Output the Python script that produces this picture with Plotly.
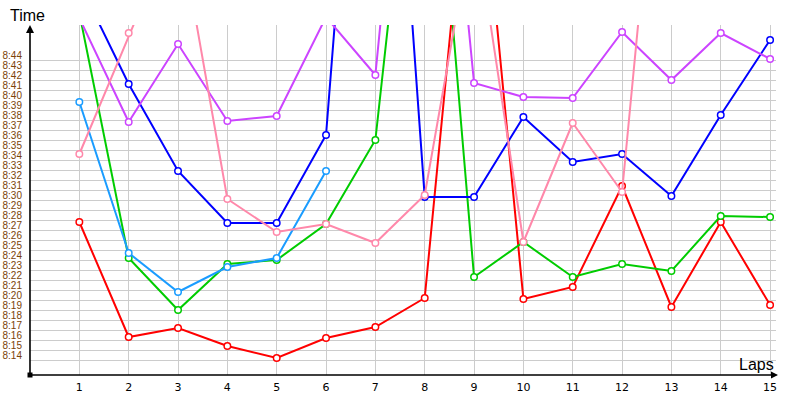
import plotly.graph_objects as go

# ---- data (lap times in seconds; 8:27 = 507 s) ----
laps = list(range(1, 16))
red = [507.3, 495.8, 496.7, 494.9, 493.7, 495.7, 496.8, 499.7, 550.8, 499.6, 500.8, 510.9, 498.8, 507.3, 499.0]
green = [528.2, 503.7, 498.5, 503.1, 503.5, 507.1, 515.5, 560.3, 501.8, 505.3, 501.8, 503.1, 502.4, 507.9, 507.8]
blue = [531.2, 521.1, 512.4, 507.2, 507.2, 516.0, 578.8, 509.8, 509.8, 517.8, 513.3, 514.1, 509.9, 518.0, 525.5]
light_blue = [519.3, 504.2, 500.3, 502.8, 503.7, 512.4]
purple = [527.7, 517.3, 525.1, 517.4, 517.9, 527.8, 522.0, 572.0, 521.2, 519.8, 519.7, 526.3, 521.5, 526.2, 523.6]
pink = [514.1, 526.2, 537.6, 509.6, 506.3, 507.1, 505.2, 510.0, 538.0, 505.3, 517.2, 510.3, 561.8]

y_tick_labels = ["8:14", "8:15", "8:16", "8:17", "8:18", "8:19", "8:20", "8:21", "8:22", "8:23",
                 "8:24", "8:25", "8:26", "8:27", "8:28", "8:29", "8:30", "8:31", "8:32", "8:33",
                 "8:34", "8:35", "8:36", "8:37", "8:38", "8:39", "8:40", "8:41", "8:42", "8:43", "8:44"]
x_tick_labels = [str(l) for l in laps]


def to_sec(s):
    m, sec = s.split(":")
    return int(m) * 60 + int(sec)


y_tick_vals = [to_sec(s) for s in y_tick_labels]
grid_vals = [v - 0.5 for v in y_tick_vals]

series = [
    (red, "#ff0000"),
    (green, "#00cc00"),
    (blue, "#0000ff"),
    (light_blue, "#1a9cff"),
    (purple, "#cc44ff"),
    (pink, "#ff88aa"),
]

fig = go.Figure()
for vals, col in series:
    fig.add_trace(go.Scatter(
        x=laps[:len(vals)], y=vals, mode="lines+markers",
        line=dict(color=col, width=2),
        marker=dict(symbol="circle", size=6.5, color="white", line=dict(color=col, width=1.5)),
        showlegend=False, hoverinfo="skip",
    ))

fig.update_layout(
    width=800, height=400,
    margin=dict(l=30, r=24, t=25, b=25),
    paper_bgcolor="white", plot_bgcolor="white",
    xaxis=dict(
        range=[0, 15.12], tickmode="array", tickvals=laps, ticktext=x_tick_labels,
        showgrid=True, gridcolor="#cccccc", gridwidth=1, zeroline=False, showline=False,
        ticks="", ticklabelstandoff=4, automargin=False,
        tickfont=dict(family="DejaVu Sans", size=11, color="#000000"),
    ),
    yaxis=dict(
        range=[492, 527], tickmode="array", tickvals=y_tick_vals, ticktext=y_tick_labels,
        showgrid=False, zeroline=False, showline=False, ticks="", ticklabelstandoff=7,
        automargin=False,
        tickfont=dict(family="Liberation Sans", size=10, color="#7a4308"),
        minor=dict(tickmode="array", tickvals=grid_vals, showgrid=True, gridcolor="#cccccc",
                   gridwidth=1, ticks=""),
    ),
)

# axes with arrows
fig.add_annotation(xref="paper", yref="paper", x=0, y=1, ax=0, ay=350, axref="pixel", ayref="pixel",
                   text="", showarrow=True, arrowhead=2, arrowsize=1, arrowwidth=1.6, arrowcolor="#000000",
                   standoff=0)
fig.add_annotation(xref="paper", yref="paper", x=(778 - 30) / 746, y=0, ax=-748, ay=0,
                   text="", showarrow=True, arrowhead=2, arrowsize=1, arrowwidth=1.4, arrowcolor="#000000",
                   standoff=0)
fig.add_shape(type="rect", xref="paper", yref="paper", xsizemode="pixel", ysizemode="pixel",
              xanchor=0, yanchor=0, x0=-2.5, x1=2.5, y0=-2.5, y1=2.5,
              fillcolor="#000000", line=dict(width=0))

fig.add_annotation(xref="paper", yref="paper", x=(8 - 30) / 746, y=(375 - 15.5) / 350,
                   xanchor="left", yanchor="middle", text="Time", showarrow=False,
                   font=dict(family="Liberation Sans", size=16, color="#000000"))
fig.add_annotation(xref="paper", yref="paper", x=(776 - 30) / 746, y=(375 - 364) / 350,
                   xanchor="right", yanchor="middle", text="Laps", showarrow=False,
                   font=dict(family="Liberation Sans", size=16, color="#000000"))

# remove the browser's default 8px body margin so the 800x400 figure fills the window
fig.write_html("out.html",
               config={"displayModeBar": False, "staticPlot": True},
               post_script="document.body.style.margin='0';document.body.style.overflow='hidden';")
